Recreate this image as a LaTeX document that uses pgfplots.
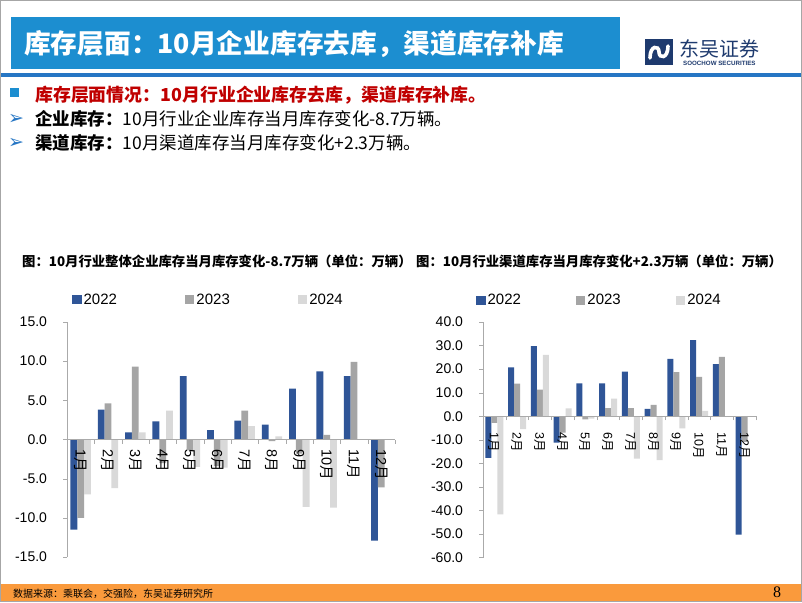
\documentclass[border=0pt]{standalone}
\usepackage{fontspec}
\setmainfont{Liberation Sans}
\newfontfamily\cjk{Noto Sans CJK SC}
\newfontfamily\dejavu{DejaVu Sans}
\newfontfamily\timesfont{Liberation Serif}
\usepackage{pgfplots}
\pgfplotsset{compat=1.18}

\definecolor{titleblue}{RGB}{28,142,208}
\definecolor{lineblue}{RGB}{38,118,196}
\definecolor{navy}{RGB}{30,58,110}
\definecolor{redtxt}{RGB}{192,0,0}
\definecolor{footer}{RGB}{250,154,60}
\definecolor{cA}{RGB}{47,85,151}
\definecolor{cB}{RGB}{165,165,165}
\definecolor{cC}{RGB}{217,217,217}
\definecolor{axgray}{RGB}{170,170,170}

\newcommand{\fs}[1]{\fontsize{#1}{#1}\selectfont}

\pgfplotsset{
  slide bars/.style={
    scale only axis, axis on top, ybar=0pt, xmin=0.5, xmax=12.5,
    axis y line=left, axis x line=middle,
    axis line style={draw=axgray, -},
    hide obscured x ticks=false, hide obscured y ticks=false,
    tick align=outside,
    xtick={1,...,12},
    xticklabels={{1{\cjk 月}},{2{\cjk 月}},{3{\cjk 月}},{4{\cjk 月}},{5{\cjk 月}},{6{\cjk 月}},
                 {7{\cjk 月}},{8{\cjk 月}},{9{\cjk 月}},{10{\cjk 月}},{11{\cjk 月}},{12{\cjk 月}}},
    major x tick style={draw=none},
    minor xtick={0.5,1.5,...,12.5},
    minor x tick style={draw=axgray},
    minor tick length=4pt,
    major tick length=4pt,
    y tick style={draw=axgray},
    yticklabel style={/pgf/number format/fixed, /pgf/number format/fixed zerofill,
      /pgf/number format/precision=1, /pgf/number format/assume math mode=true,
      font=\fs{14}, xshift=-12.5pt},
    xticklabel style={rotate=-90, anchor=west},
    legend columns=3,
    legend style={draw=none, fill=none, inner sep=0pt, font=\fs{15}},
    legend image code/.code={\fill[#1] (0pt,-4.5pt) rectangle (9.5pt,4.5pt);},
  }
}

\begin{document}
\begin{tikzpicture}[x=1pt,y=1pt]
% page
\path[fill=white] (0,0) rectangle (802,602);
% header
\fill[titleblue] (11,533) rectangle (620,585);
\node[anchor=west, text=white, inner sep=0pt, font=\cjk\bfseries\fs{26.7}] at (24,557.5)
  {库存层面：10月企业库存去库，渠道库存补库};
\fill[lineblue] (0,525) rectangle (802,529);
% logo
\fill[navy] (645,537) rectangle (673,563);
\draw[white, line width=3.6pt, line cap=round]
  (650,544) .. controls (650,557) and (659,557) .. (659,550)
  .. controls (659,543) and (668,543) .. (668,556);
\node[anchor=west, text=navy, inner sep=0pt, font=\cjk\fs{20}] at (679,553) {东吴证券};
\node[anchor=west, text=navy, inner sep=0pt, font=\bfseries\fs{6.2}] at (683,539) {SOOCHOW SECURITIES};
% bullets
\fill[titleblue] (10,505) rectangle (19,514);
\node[anchor=west, text=redtxt, inner sep=0pt, font=\cjk\bfseries\fs{17.9}] at (35,507)
  {库存层面情况：10月行业企业库存去库，渠道库存补库。};
\node[anchor=west, text=lineblue, inner sep=0pt, font=\dejavu\fs{19}] at (8,483) {➢};
\node[anchor=west, inner sep=0pt, font=\cjk\fs{17.5}] at (35,483)
  {{\bfseries 企业库存：}10月行业企业库存当月库存变化-8.7万辆。};
\node[anchor=west, text=lineblue, inner sep=0pt, font=\dejavu\fs{19}] at (8,459) {➢};
\node[anchor=west, inner sep=0pt, font=\cjk\fs{17.5}] at (35,459)
  {{\bfseries 渠道库存：}10月渠道库存当月库存变化+2.3万辆。};
% chart titles
\node[anchor=west, inner sep=0pt, font=\cjk\bfseries\fs{13.35}] at (22,341)
  {图：10月行业整体企业库存当月库存变化-8.7万辆（单位：万辆）};
\node[anchor=west, inner sep=0pt, font=\cjk\bfseries\fs{13.35}] at (416,341)
  {图：10月行业渠道库存当月库存变化+2.3万辆（单位：万辆）};

% left chart: enterprise inventory change
\begin{axis}[slide bars, at={(67pt,45pt)}, anchor=south west,
  width=328pt, height=235pt, bar width=6.8pt,
  ymin=-15, ymax=15, ytick={-15,-10,...,15},
  xticklabel style={font=\fs{14.5}, xshift=2pt},
  legend style={at={(0.015,1.094)}, anchor=west,
    /tikz/every even column/.append style={column sep=66pt}}]
\addplot[fill=cA, draw=none] coordinates {
 (1,-11.5) (2,3.8) (3,0.9) (4,2.3) (5,8.1) (6,1.2)
 (7,2.4) (8,1.9) (9,6.5) (10,8.7) (11,8.1) (12,-12.9)};
\addplot[fill=cB, draw=none] coordinates {
 (1,-10.0) (2,4.6) (3,9.3) (4,-3.0) (5,-1.4) (6,-3.4)
 (7,3.7) (8,-0.2) (9,-1.8) (10,0.6) (11,9.9) (12,-6.1)};
\addplot[fill=cC, draw=none] coordinates {
 (1,-7.0) (2,-6.2) (3,0.9) (4,3.7) (5,-3.5) (6,-3.6)
 (7,1.7) (8,0.4) (9,-8.6) (10,-8.7)};
\legend{2022,2023,2024}
\end{axis}

% right chart: dealer inventory change
\begin{axis}[slide bars, at={(483pt,44.5pt)}, anchor=south west,
  width=273pt, height=235.5pt, bar width=6pt,
  ymin=-60, ymax=40, ytick={-60,-50,...,40},
  xticklabel style={font=\fs{12.5}, xshift=9pt},
  legend style={at={(-0.026,1.093)}, anchor=west,
    /tikz/every even column/.append style={column sep=53pt}}]
\addplot[fill=cA, draw=none] coordinates {
 (1,-17.7) (2,20.7) (3,29.8) (4,-11.2) (5,13.9) (6,13.9)
 (7,18.9) (8,3.1) (9,24.3) (10,32.3) (11,22.1) (12,-50.3)};
\addplot[fill=cB, draw=none] coordinates {
 (1,-2.8) (2,13.8) (3,11.3) (4,-7.0) (5,-1.4) (6,3.4)
 (7,3.4) (8,4.8) (9,18.7) (10,16.7) (11,25.2) (12,-10.9)};
\addplot[fill=cC, draw=none] coordinates {
 (1,-41.7) (2,-5.5) (3,26.0) (4,3.3) (5,-1.0) (6,7.5)
 (7,-18.0) (8,-18.7) (9,-5.2) (10,2.3)};
\legend{2022,2023,2024}
\end{axis}

% footer
\fill[footer] (0,0) rectangle (802,18);
\node[anchor=west, inner sep=0pt, font=\cjk\fs{10}] at (13,8.5)
  {数据来源：乘联会，交强险，东吴证券研究所};
\node[inner sep=0pt, font=\timesfont\fs{16}] at (777,10) {8};
% frame
\draw[gray!70, line width=1.2pt] (0.6,0.6) rectangle (801.2,601.4);
\end{tikzpicture}
\end{document}
